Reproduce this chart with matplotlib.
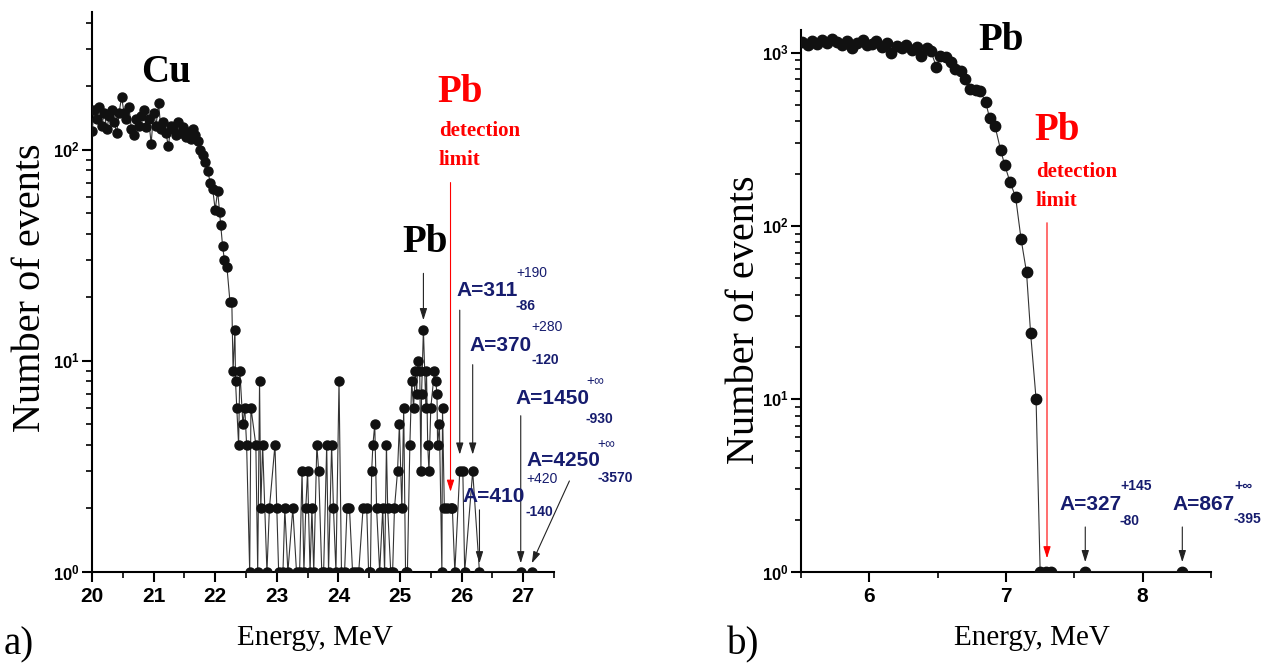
import numpy as np
import matplotlib.pyplot as plt
from matplotlib.ticker import LogLocator, NullFormatter, FuncFormatter, MultipleLocator

plt.rcParams['mathtext.fontset'] = 'custom'
plt.rcParams['mathtext.bf'] = 'Liberation Sans:bold'
plt.rcParams['mathtext.rm'] = 'Liberation Sans'

# panel a) : Cu target spectrum (energy MeV, counts)
energy_a = [20.00, 20.04, 20.08, 20.12, 20.16, 20.20, 20.24, 20.28, 20.32, 20.36,
            20.40, 20.44, 20.48, 20.52, 20.56, 20.60, 20.64, 20.68, 20.72, 20.76,
            20.80, 20.84, 20.88, 20.92, 20.96, 21.00, 21.04, 21.08, 21.12, 21.16,
            21.20, 21.24, 21.28, 21.32, 21.36, 21.40, 21.44, 21.48, 21.52, 21.56,
            21.60, 21.64, 21.68, 21.72, 21.76, 21.80, 21.84, 21.88, 21.92, 21.96,
            22.00, 22.04, 22.07, 22.09, 22.12, 22.15, 22.19, 22.24, 22.27, 22.29,
            22.32, 22.33, 22.35, 22.38, 22.40, 22.45, 22.48, 22.51, 22.56, 22.58,
            22.66, 22.69, 22.72, 22.74, 22.77, 22.84, 22.88, 22.97, 23.00, 23.03,
            23.10, 23.13, 23.18, 23.26, 23.32, 23.37, 23.41, 23.44, 23.47, 23.50,
            23.54, 23.57, 23.60, 23.65, 23.68, 23.73, 23.76, 23.81, 23.84, 23.89,
            23.92, 23.96, 24.01, 24.05, 24.10, 24.14, 24.18, 24.23, 24.28, 24.33,
            24.40, 24.46, 24.49, 24.52, 24.54, 24.56, 24.59, 24.62, 24.67, 24.72,
            24.75, 24.78, 24.80, 24.85, 24.88, 24.91, 24.96, 24.99, 25.03, 25.06,
            25.09, 25.12, 25.16, 25.19, 25.22, 25.25, 25.27, 25.29, 25.32, 25.34,
            25.35, 25.38, 25.42, 25.43, 25.45, 25.47, 25.50, 25.56, 25.58, 25.60,
            25.61, 25.64, 25.68, 25.69, 25.72, 25.77, 25.82, 25.85, 25.89, 25.97,
            26.02, 26.05, 26.18, 26.29, 26.96, 27.14]
counts_a = [123, 155, 140, 160, 130, 150, 125, 145, 155, 135,
            120, 150, 178, 150, 140, 160, 125, 118, 140, 130,
            145, 155, 128, 140, 107, 150, 130, 166, 125, 135,
            120, 104, 130, 125, 118, 135, 120, 128, 115, 122,
            112, 125, 118, 110, 100, 95, 88, 79, 70, 65,
            52, 64, 51, 44, 35, 30, 28, 19, 19, 9,
            14, 8, 6, 4, 9, 5, 6, 4, 1, 6,
            4, 1, 8, 2, 4, 1, 2, 4, 2, 1,
            1, 2, 1, 2, 1, 1, 3, 1, 2, 3,
            1, 2, 1, 4, 3, 1, 1, 4, 1, 4,
            2, 1, 8, 1, 1, 2, 2, 1, 1, 1,
            2, 2, 1, 1, 3, 4, 5, 2, 1, 2,
            1, 4, 2, 1, 1, 2, 3, 5, 2, 6,
            1, 1, 4, 8, 6, 9, 7, 10, 9, 3,
            7, 14, 6, 9, 4, 3, 6, 9, 8, 7,
            4, 5, 1, 6, 2, 2, 2, 2, 1, 3,
            3, 1, 3, 1, 1, 1]

# panel b) : Pb target spectrum
energy_b = [5.51, 5.55, 5.58, 5.62, 5.65, 5.69, 5.73, 5.76, 5.80, 5.84,
            5.87, 5.91, 5.95, 5.98, 6.02, 6.05, 6.09, 6.13, 6.16, 6.20,
            6.24, 6.27, 6.31, 6.35, 6.38, 6.42, 6.45, 6.49, 6.52, 6.56,
            6.60, 6.63, 6.67, 6.70, 6.74, 6.78, 6.81, 6.85, 6.88, 6.92,
            6.96, 6.99, 7.03, 7.07, 7.11, 7.15, 7.18, 7.22, 7.25, 7.29,
            7.33, 7.58, 8.29]
counts_b = [1150, 1100, 1160, 1120, 1180, 1130, 1200, 1150, 1110, 1170,
            1060, 1140, 1180, 1100, 1120, 1160, 1080, 1130, 1000, 1090,
            1060, 1110, 1040, 1080, 950, 1060, 1020, 830, 960, 940,
            880, 800, 780, 700, 620, 610, 600, 520, 420, 375,
            275, 225, 178, 147, 84, 54, 24, 10, 1, 1,
            1, 1, 1]

# annotated events
events_a = [25.97, 26.18, 26.29, 26.96, 27.14]
mass_a = ['A=311', 'A=370', 'A=410', 'A=1450', 'A=4250']
plus_a = ['+190', '+280', '+420', '+\u221e', '+\u221e']
minus_a = ['-86', '-120', '-140', '-930', '-3570']
limit_a = 25.82
peak_a = 25.38

events_b = [7.58, 8.29]
mass_b = ['A=327', 'A=867']
plus_b = ['+145', '+\u221e']
minus_b = ['-80', '-395']
limit_b = 7.30

W, H = 1272, 668
fig = plt.figure(figsize=(W / 100, H / 100), dpi=100)

serif = 'Liberation Serif'
sans = ['Liberation Sans', 'DejaVu Sans']
navy = '#161c6e'


def px(x, y):
    return x / W, 1 - y / H


def style(ax):
    ax.set_yscale('log')
    for s in ['top', 'right']:
        ax.spines[s].set_visible(False)
    for s in ['left', 'bottom']:
        ax.spines[s].set_linewidth(1.5)
    ax.tick_params(which='major', direction='out', length=7, width=1.5)
    ax.tick_params(which='minor', direction='out', length=4, width=1.2)
    ax.tick_params(axis='y', labelsize=12, pad=2)
    ax.yaxis.set_major_locator(LogLocator(base=10))
    ax.yaxis.set_minor_locator(LogLocator(base=10, subs=np.arange(2, 10)))
    ax.yaxis.set_minor_formatter(NullFormatter())
    ax.yaxis.set_major_formatter(FuncFormatter(lambda v, p: r'$\mathbf{10^{%d}}$' % round(np.log10(v))))
    ax.xaxis.set_minor_locator(MultipleLocator(0.5))


def arrow(ax, tip, start, color='#222222', lw=0.8):
    ax.annotate('', xy=tip, xytext=start,
                arrowprops=dict(arrowstyle='-|>,head_length=0.7,head_width=0.22',
                                color=color, lw=lw, shrinkA=0, shrinkB=0),
                annotation_clip=False)


def mass_label(x, y, main, plus, minus, sx, sy_up, sy_dn, plus_bold=False):
    fig.text(*px(x, y), main, color=navy, fontsize=15, fontweight='bold',
             family=sans, ha='left', va='center')
    fig.text(*px(sx, sy_up), plus, color=navy, fontsize=10,
             fontweight='bold' if plus_bold else 'normal',
             family=sans, ha='left', va='center')
    fig.text(*px(sx, sy_dn), minus, color=navy, fontsize=10, fontweight='bold',
             family=sans, ha='left', va='center')


# ---------- panel a ----------
ax_a = fig.add_axes([92 / W, 1 - 572 / H, (554 - 92) / W, (572 - 12) / H])
style(ax_a)
ax_a.plot(energy_a, counts_a, '-', color='#333333', lw=0.8, marker='o', ms=6.5,
          mfc='#111111', mec='#111111', zorder=3)
ax_a.set_xlim(20, 27.5)
ax_a.set_ylim(1, 450)
ticks_a = [20, 21, 22, 23, 24, 25, 26, 27]
ax_a.set_xticks(ticks_a, [str(t) for t in ticks_a], fontsize=15, fontweight='bold', family=sans)

# arrows
arrow(ax_a, (peak_a, 15.6), (peak_a, 26))
arrow(ax_a, (limit_a, 2.4), (limit_a, 70), color='red')
arrow(ax_a, (events_a[0], 3.6), (events_a[0], 17.4))
arrow(ax_a, (events_a[1], 3.6), (events_a[1], 9.6))
arrow(ax_a, (events_a[2], 1.1), (events_a[2], 1.97))
arrow(ax_a, (events_a[3], 1.1), (events_a[3], 5.5))
arrow(ax_a, (events_a[4], 1.1), (27.75, 2.7))

fig.text(*px(166, 73), 'Cu', fontsize=28, fontweight='bold', family=serif, ha='center', va='center')
fig.text(*px(425, 243), 'Pb', fontsize=28, fontweight='bold', family=serif, ha='center', va='center')
fig.text(*px(437, 92), 'Pb', fontsize=28, fontweight='bold', family=serif, color='red', ha='left', va='center')
fig.text(*px(439, 131), 'detection', fontsize=15, fontweight='bold', family=serif, color='red', ha='left', va='center')
fig.text(*px(439, 160), 'limit', fontsize=15, fontweight='bold', family=serif, color='red', ha='left', va='center')

mass_label(456, 290, mass_a[0], plus_a[0], minus_a[0], 516, 273, 306)
mass_label(469, 345, mass_a[1], plus_a[1], minus_a[1], 531, 327, 360)
mass_label(462, 496, mass_a[2], plus_a[2], minus_a[2], 526, 479, 512)
mass_label(515, 398, mass_a[3], plus_a[3], minus_a[3], 586, 381, 419)
mass_label(526, 461, mass_a[4], plus_a[4], minus_a[4], 597, 444, 478)

fig.text(*px(30, 288), 'Number of events', fontsize=29, family=serif, rotation=90, ha='center', va='center')
fig.text(*px(315, 638), 'Energy, MeV', fontsize=21, family=serif, ha='center', va='center')
fig.text(*px(4, 645), 'a)', fontsize=28, family=serif, ha='left', va='center')

# ---------- panel b ----------
ax_b = fig.add_axes([801 / W, 1 - 572 / H, (1211 - 801) / W, (572 - 30) / H])
style(ax_b)
ax_b.plot(energy_b, counts_b, '-', color='#333333', lw=0.8, marker='o', ms=7.5,
          mfc='#111111', mec='#111111', zorder=3)
ax_b.set_xlim(5.5, 8.5)
ax_b.set_ylim(1, 1350)
ticks_b = [6, 7, 8]
ax_b.set_xticks(ticks_b, [str(t) for t in ticks_b], fontsize=15, fontweight='bold', family=sans)

arrow(ax_b, (limit_b, 1.2), (limit_b, 104), color='red')
arrow(ax_b, (events_b[0], 1.14), (events_b[0], 1.82))
arrow(ax_b, (events_b[1], 1.14), (events_b[1], 1.82))

fig.text(*px(1001, 41), 'Pb', fontsize=28, fontweight='bold', family=serif, ha='center', va='center')
fig.text(*px(1034, 130), 'Pb', fontsize=28, fontweight='bold', family=serif, color='red', ha='left', va='center')
fig.text(*px(1036, 172), 'detection', fontsize=15, fontweight='bold', family=serif, color='red', ha='left', va='center')
fig.text(*px(1036, 201), 'limit', fontsize=15, fontweight='bold', family=serif, color='red', ha='left', va='center')

mass_label(1059, 505, mass_b[0], plus_b[0], minus_b[0], 1120, 486, 521, plus_bold=True)
mass_label(1172, 505, mass_b[1], plus_b[1], minus_b[1], 1234, 486, 519, plus_bold=True)

fig.text(*px(745, 320), 'Number of events', fontsize=29, family=serif, rotation=90, ha='center', va='center')
fig.text(*px(1032, 638), 'Energy, MeV', fontsize=21, family=serif, ha='center', va='center')
fig.text(*px(727, 645), 'b)', fontsize=28, family=serif, ha='left', va='center')

fig.savefig('out.png', dpi=100)
